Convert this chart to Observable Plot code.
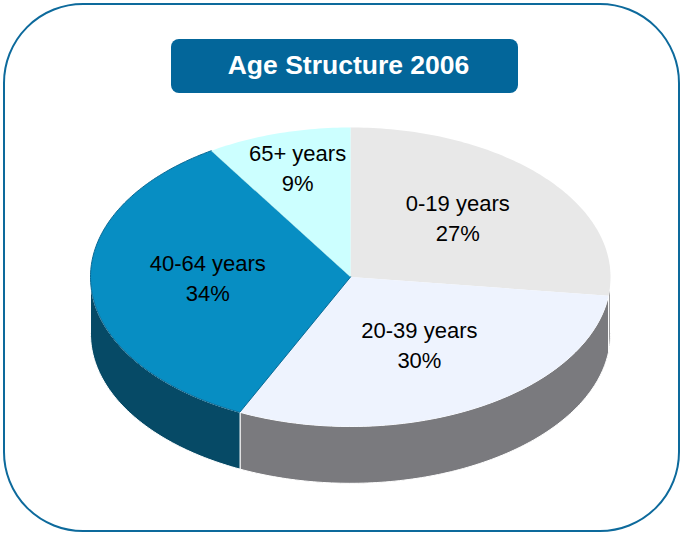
<!DOCTYPE html>
<html><head><meta charset="utf-8">
<script src="https://cdn.jsdelivr.net/npm/d3@7"></script>
<script src="https://cdn.jsdelivr.net/npm/@observablehq/plot@0.6"></script>
<style>
body{margin:0;background:#fff;}
#wrap{position:relative;width:682px;height:536px;overflow:hidden;font-family:"Liberation Sans",Arial,sans-serif;}
#card{position:absolute;left:3px;top:3px;width:673px;height:525px;border:2px solid #0d6a9c;border-radius:80px;}
#chart{position:absolute;left:0;top:0;}
#title{position:absolute;left:171px;top:39px;width:347px;height:54px;box-sizing:border-box;padding-left:8px;background:#03669a;border-radius:8px;color:#fff;font-weight:bold;font-size:26.5px;line-height:53px;text-align:center;}
</style>
</head><body>
<div id="wrap"><div id="card"></div><div id="chart"></div><div id="title">Age Structure 2006</div></div>
<script>
const categories = ["0-19 years", "20-39 years", "40-64 years", "65+ years"];
const shares = [27, 30, 34, 9];
const topColors = ["#e8e8e8", "#eef3fe", "#078ec3", "#ccffff"];
const sideColors = ["#9a9a9c", "#7a7a7e", "#064a66", "#8fd0d0"];

const total = d3.sum(shares);
let acc = 0;
const slices = categories.map((c, i) => {
  const a0 = acc / total * 360; acc += shares[i]; const a1 = acc / total * 360;
  return {c, v: shares[i], a0, a1, i};
});
const DEPTH = 0.38;
const rad = d => d * Math.PI / 180;
function arc(a0, a1, dy = 0) {
  const n = Math.max(2, Math.ceil(a1 - a0));
  return d3.range(n + 1).map(k => { const a = rad(a0 + (a1 - a0) * k / n); return {x: Math.sin(a), y: Math.cos(a) + dy}; });
}
const marks = [];
// side walls (front half only)
slices.forEach(s => {
  const s0 = Math.max(s.a0, 90), s1 = Math.min(s.a1, 270);
  if (s1 > s0) {
    const pts = arc(s0, s1).concat(arc(s0, s1, -DEPTH).reverse());
    marks.push(Plot.line(pts, {x: "x", y: "y", fill: sideColors[s.i], stroke: "#ffffff", strokeWidth: 1, curve: "linear-closed"}));
  }
});
// top faces
slices.forEach(s => {
  const pts = [{x: 0, y: 0}, ...arc(s.a0, s.a1)];
  marks.push(Plot.line(pts, {x: "x", y: "y", fill: topColors[s.i], stroke: s.i === 2 ? "#0a6a95" : "none", strokeWidth: 1, curve: "linear-closed"}));
});
// labels
const lr = d => d.v < 15 ? 0.73 : 0.55;
const mid = d => rad((d.a0 + d.a1) / 2);
marks.push(Plot.text(slices, {
  x: d => lr(d) * Math.sin(mid(d)),
  y: d => lr(d) * Math.cos(mid(d)),
  text: d => `${d.c}\n${d.v}%`,
  dy: -6,
  fontSize: 22, lineHeight: 1.36, fill: "#000"
}));

const chart = Plot.plot({
  width: 682, height: 536, margin: 0,
  x: {domain: [-1, 1], range: [90, 610], axis: null},
  y: {domain: [-1, 1], range: [426, 127], axis: null},
  style: {background: "transparent", fontFamily: "'Liberation Sans', Arial, sans-serif", overflow: "visible"},
  marks
});
document.getElementById("chart").appendChild(chart);
</script>
</body></html>
